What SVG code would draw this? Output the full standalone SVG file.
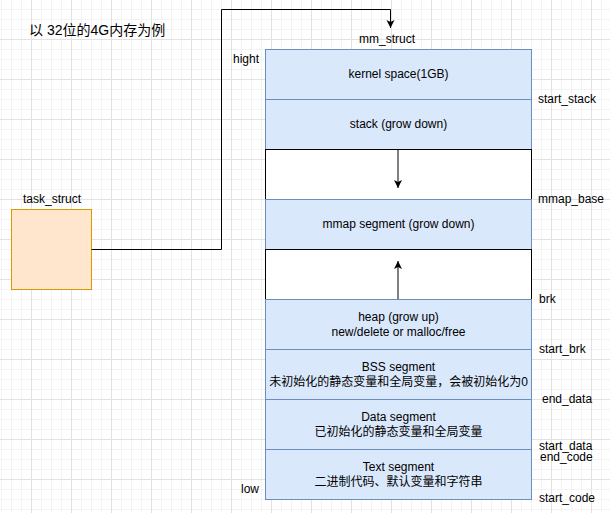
<svg xmlns="http://www.w3.org/2000/svg" width="610" height="513" viewBox="0 0 610 513">
<defs>
<pattern id="grid" patternUnits="userSpaceOnUse" x="-9" y="-1" width="40" height="40">
<path d="M10.5,0V40M20.5,0V40M30.5,0V40M0,10.5H40M0,20.5H40M0,30.5H40" stroke="#f3f3f3" stroke-width="1" fill="none"/>
<path d="M0.5,0V40M0,0.5H40" stroke="#e2e2e2" stroke-width="1" fill="none"/>
</pattern>
<marker id="arr" markerUnits="userSpaceOnUse" markerWidth="10" markerHeight="10" refX="8" refY="4" orient="auto">
<path d="M0,0 L8,4 L0,8 L2,4 Z" fill="#000"/>
</marker>
<style>
text{font-family:"Liberation Sans","Noto Sans CJK SC",Arial,sans-serif;font-size:12px;fill:#000}
.c{text-anchor:middle}
.blue{fill:#dae8fc;stroke:#6c8ebf;stroke-width:1}
.white{fill:#fff;stroke:#000;stroke-width:1}
.edge{fill:none;stroke:#000;stroke-width:1}
</style>
</defs>
<rect width="610" height="513" fill="#fff"/>
<rect width="610" height="513" fill="url(#grid)"/>

<text id="title" x="29" y="35" style="font-size:14px">以 32位的4G内存为例</text>

<g id="task_struct">
<rect x="11.5" y="209.5" width="80" height="80" fill="#ffe6cc" stroke="#d79b00"/>
<text class="c" x="52" y="203">task_struct</text>
</g>

<g id="mm_struct_label"><text class="c" x="387" y="43">mm_struct</text></g>
<g id="hight"><text x="233" y="63">hight</text></g>
<g id="low"><text x="241" y="493">low</text></g>

<g id="kernel"><rect class="blue" x="265.5" y="49.5" width="266" height="50"/><text class="c" x="398.5" y="78">kernel space(1GB)</text></g>
<g id="stack"><rect class="blue" x="265.5" y="99.5" width="266" height="50"/><text class="c" x="398.5" y="128">stack (grow down)</text></g>
<g id="gap1"><rect class="white" x="265.5" y="149.5" width="266" height="50"/></g>
<g id="mmap"><rect class="blue" x="265.5" y="199.5" width="266" height="50"/><text class="c" x="398.5" y="228">mmap segment (grow down)</text></g>
<g id="gap2"><rect class="white" x="265.5" y="249.5" width="266" height="50"/></g>
<g id="heap"><rect class="blue" x="265.5" y="299.5" width="266" height="50"/><text class="c" x="398.5" y="321">heap (grow up)</text><text class="c" x="398.5" y="336">new/delete or malloc/free</text></g>
<g id="bss"><rect class="blue" x="265.5" y="349.5" width="266" height="50"/><text class="c" x="398.5" y="371">BSS segment</text><text class="c" x="398.5" y="386">未初始化的静态变量和全局变量，会被初始化为0</text></g>
<g id="data"><rect class="blue" x="265.5" y="399.5" width="266" height="50"/><text class="c" x="398.5" y="421">Data segment</text><text class="c" x="398.5" y="436">已初始化的静态变量和全局变量</text></g>
<g id="text"><rect class="blue" x="265.5" y="449.5" width="266" height="50"/><text class="c" x="398.5" y="471">Text segment</text><text class="c" x="398.5" y="486">二进制代码、默认变量和字符串</text></g>

<g id="addr-labels">
<text x="538" y="103">start_stack</text>
<text x="538" y="203">mmap_base</text>
<text x="539" y="303">brk</text>
<text x="539" y="353">start_brk</text>
<text x="542" y="403">end_data</text>
<text x="539" y="450">start_data</text>
<text x="540" y="461">end_code</text>
<text x="539" y="502">start_code</text>
</g>

<g id="connectors">
<path class="edge" d="M91.5,249.5 H221.5 V9.5 H390.5 V28" marker-end="url(#arr)"/>
<path class="edge" d="M398,150 V188" marker-end="url(#arr)"/>
<path class="edge" d="M398,299 V261" marker-end="url(#arr)"/>
</g>
</svg>
